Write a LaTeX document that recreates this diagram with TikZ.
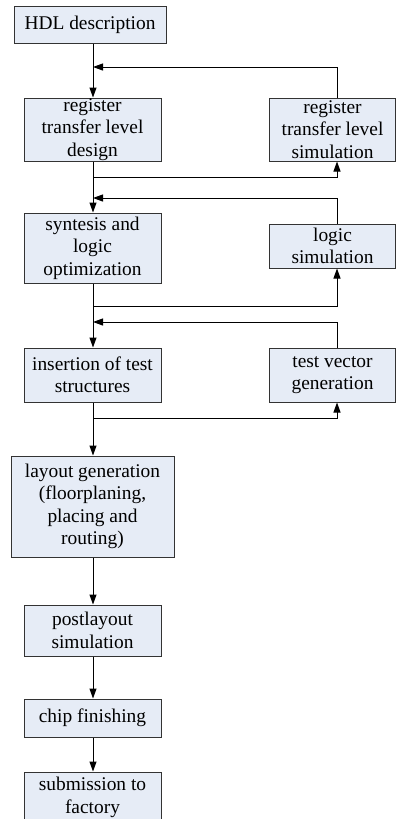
\documentclass[tikz,border=0pt]{standalone}
\usepackage{fontspec}
\setmainfont{Liberation Serif}
\newfontfamily\stagefont{Liberation Serif}
\usetikzlibrary{arrows.meta}
\definecolor{stagefill}{RGB}{230,236,246}

\begin{document}
\begin{tikzpicture}[x=1pt,y=-1pt,
    stage/.style={draw=black!80,fill=stagefill,line width=1pt,
      align=center,inner sep=0pt,
      font=\stagefont\fontsize{19.4}{22.5}\selectfont},
    flow/.style={line width=1pt,-{Triangle[length=10pt,width=7pt]}}]
  \useasboundingbox (0,0) rectangle (396,819);
  \node[stage,minimum width=152pt,minimum height=37pt] (hdl) at (90,24.5) {HDL description};
  \node[stage,minimum width=137pt,minimum height=63pt] (rtl) at (92.5,129.5) {register\\transfer level\\design};
  \node[stage,minimum width=126pt,minimum height=63pt] (rtlsim) at (332.5,129.5) {register\\transfer level\\simulation};
  \node[stage,minimum width=137pt,minimum height=70pt] (syn) at (92.5,248) {syntesis and\\logic\\optimization};
  \node[stage,minimum width=126pt,minimum height=44pt] (logsim) at (332.5,246) {logic\\simulation};
  \node[stage,minimum width=137pt,minimum height=54pt] (ins) at (92.5,375) {insertion of test\\structures};
  \node[stage,minimum width=126pt,minimum height=54pt] (tvg) at (332.5,375) {test vector\\generation};
  \node[stage,minimum width=163pt,minimum height=101pt] (lay) at (92.5,506.5) {layout generation\\(floorplaning,\\placing and\\routing)};
  \node[stage,minimum width=137pt,minimum height=51pt] (post) at (92.5,630.5) {postlayout\\simulation};
  \node[stage,minimum width=137pt,minimum height=38pt] (chip) at (92.5,718) {chip finishing};
  \node[stage,minimum width=137pt,minimum height=51pt] (sub) at (92.5,797.5) {submission to\\factory};

  % main flow
  \draw[flow] (hdl.south -| 93,0) -- (rtl.north -| 93,0);
  \draw[flow] (rtl.south -| 93,0) -- (syn.north -| 93,0);
  \draw[flow] (syn.south -| 93,0) -- (ins.north -| 93,0);
  \draw[flow] (ins.south -| 93,0) -- (lay.north -| 93,0);
  \draw[flow] (lay.south -| 93,0) -- (post.north -| 93,0);
  \draw[flow] (post.south -| 93,0) -- (chip.north -| 93,0);
  \draw[flow] (chip.south -| 93,0) -- (sub.north -| 93,0);

  % simulation loops
  \draw[flow] (rtlsim.north -| 337,0) |- (93,67);
  \draw[flow] (93,177) -| (rtlsim.south -| 337,0);
  \draw[flow] (logsim.north -| 337,0) |- (93,198);
  \draw[flow] (93,306) -| (logsim.south -| 337,0);
  \draw[flow] (tvg.north -| 337,0) |- (93,322);
  \draw[flow] (93,418) -| (tvg.south -| 337,0);
\end{tikzpicture}
\end{document}
